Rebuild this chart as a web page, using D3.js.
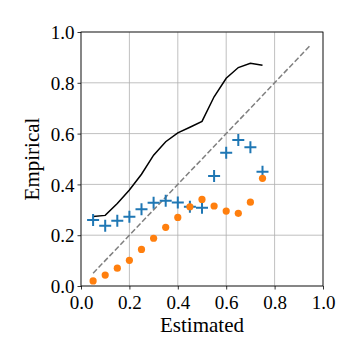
<!DOCTYPE html>
<html>
<head>
<meta charset="utf-8">
<script src="https://cdn.jsdelivr.net/npm/d3@7"></script>
<style>
  body { margin: 0; background: #fff; }
</style>
</head>
<body>
<div id="chart"></div>
<script>
// bin centres shared by all series
const binCenters = [0.05, 0.10, 0.15, 0.20, 0.25, 0.30, 0.35, 0.40, 0.45, 0.50, 0.55, 0.60, 0.65, 0.70, 0.75];
// black curve
const curveValues = [0.274, 0.278, 0.325, 0.378, 0.44, 0.515, 0.568, 0.603, 0.625, 0.648, 0.745, 0.818, 0.86, 0.877, 0.869];
// blue plus markers
const plusValues = [0.26, 0.237, 0.257, 0.273, 0.302, 0.328, 0.336, 0.329, 0.312, 0.308, 0.433, 0.525, 0.575, 0.546, 0.45];
// orange dots
const dotValues = [0.02, 0.043, 0.07, 0.101, 0.144, 0.188, 0.231, 0.27, 0.312, 0.341, 0.315, 0.295, 0.286, 0.33, 0.424];
// reference diagonal
const diagonal = [0.05, 0.95];
const tickValues = [0, 0.2, 0.4, 0.6, 0.8, 1.0];

const serif = "'Liberation Serif', 'Times New Roman', Times, 'DejaVu Serif', serif";

const width = 360, height = 360;
const margin = {top: 32, right: 37, bottom: 74, left: 81};
const w = width - margin.left - margin.right;
const h = height - margin.top - margin.bottom;

const svg = d3.select("#chart").append("svg")
    .attr("width", width)
    .attr("height", height)
    .append("g")
    .attr("transform", "translate(" + margin.left + "," + margin.top + ")");

const x = d3.scaleLinear().domain([0, 1]).range([0, w]);
const y = d3.scaleLinear().domain([0, 1]).range([h, 0]);

// grid
svg.append("g")
    .selectAll("line")
    .data(tickValues)
    .enter().append("line")
    .attr("x1", d => x(d)).attr("x2", d => x(d))
    .attr("y1", 0).attr("y2", h)
    .attr("stroke", "#b0b0b0").attr("stroke-width", 0.8);
svg.append("g")
    .selectAll("line")
    .data(tickValues)
    .enter().append("line")
    .attr("y1", d => y(d)).attr("y2", d => y(d))
    .attr("x1", 0).attr("x2", w)
    .attr("stroke", "#b0b0b0").attr("stroke-width", 0.8);

// diagonal
svg.append("line")
    .attr("x1", x(diagonal[0])).attr("y1", y(diagonal[0]))
    .attr("x2", x(diagonal[1])).attr("y2", y(diagonal[1]))
    .attr("stroke", "#7f7f7f")
    .attr("stroke-width", 1.5)
    .attr("stroke-dasharray", "5.5,2.4");

// black curve
const line = d3.line().x((d, i) => x(binCenters[i])).y(d => y(d));
svg.append("path")
    .datum(curveValues)
    .attr("fill", "none")
    .attr("stroke", "#000")
    .attr("stroke-width", 1.5)
    .attr("d", line);

// plus markers
svg.append("g").selectAll("path")
    .data(plusValues)
    .enter().append("path")
    .attr("transform", (d, i) => "translate(" + x(binCenters[i]) + "," + y(d) + ")")
    .attr("d", "M-6,0H6M0,-6V6")
    .attr("stroke", "#1f77b4")
    .attr("stroke-width", 2);

// orange dots
svg.append("g").selectAll("circle")
    .data(dotValues)
    .enter().append("circle")
    .attr("cx", (d, i) => x(binCenters[i]))
    .attr("cy", d => y(d))
    .attr("r", 3.6)
    .attr("fill", "#ff7f0e");

// axes
const fmt = d3.format(".1f");
const xAxis = svg.append("g")
    .attr("transform", "translate(0," + h + ")")
    .call(d3.axisBottom(x).tickValues(tickValues).tickFormat(fmt).tickSize(3.5).tickPadding(3));
const yAxis = svg.append("g")
    .call(d3.axisLeft(y).tickValues(tickValues).tickFormat(fmt).tickSize(3.5).tickPadding(3));
[xAxis, yAxis].forEach(a => {
    a.attr("font-family", null).attr("font-size", null);
    a.select(".domain").remove();
    a.selectAll("line").attr("stroke", "#000").attr("stroke-width", 0.8);
    a.selectAll("text")
        .style("font-family", serif)
        .style("font-size", "19px")
        .attr("fill", "#000");
});
xAxis.selectAll("text").attr("dy", "0.85em");
yAxis.selectAll("text").attr("dy", "0.35em");

// frame
svg.append("rect")
    .attr("width", w).attr("height", h)
    .attr("fill", "none")
    .attr("stroke", "#000")
    .attr("stroke-width", 0.8);

// labels
svg.append("text")
    .attr("x", w / 2)
    .attr("y", h + 46)
    .attr("text-anchor", "middle")
    .style("font-family", serif)
    .style("font-size", "21px")
    .text("Estimated");
svg.append("text")
    .attr("transform", "translate(" + (-42) + "," + (h / 2) + ") rotate(-90)")
    .attr("text-anchor", "middle")
    .style("font-family", serif)
    .style("font-size", "21px")
    .text("Empirical");
</script>
</body>
</html>
